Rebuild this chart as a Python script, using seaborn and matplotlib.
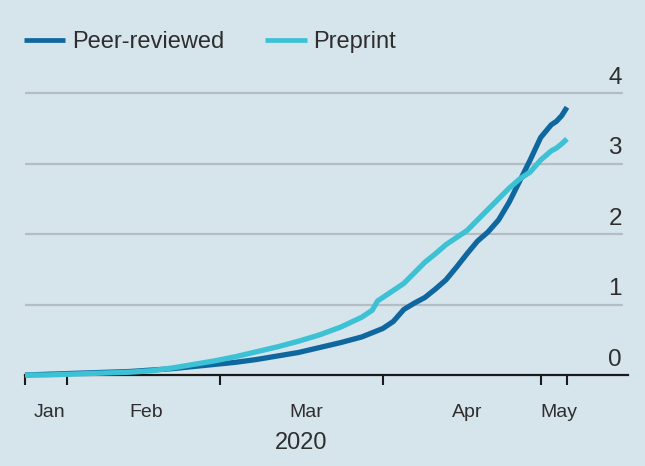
import matplotlib
matplotlib.use("Agg")
import matplotlib.pyplot as plt
import seaborn as sns
import pandas as pd

# ---- data (thousands of papers, cumulative) ----
days = [0, 4, 8, 12, 16, 20, 24, 28, 32, 36, 40, 44, 48, 52, 56, 60, 64, 66, 67,
        68, 70, 72, 74, 76, 78, 80, 82, 84, 86, 88, 90, 92, 94, 96, 98, 100, 101, 102, 103]
peer_reviewed = [0.0, 0.01, 0.02, 0.03, 0.04, 0.05, 0.07, 0.09, 0.12, 0.15, 0.18, 0.22, 0.27,
                 0.32, 0.39, 0.46, 0.54, 0.60, 0.63, 0.66, 0.76, 0.93, 1.02, 1.10, 1.22, 1.35,
                 1.53, 1.72, 1.90, 2.03, 2.20, 2.45, 2.75, 3.05, 3.37, 3.55, 3.60, 3.68, 3.80]
preprint = [0.0, 0.0, 0.01, 0.02, 0.03, 0.04, 0.06, 0.10, 0.15, 0.20, 0.26, 0.33, 0.40,
            0.48, 0.57, 0.68, 0.82, 0.92, 1.05, 1.10, 1.20, 1.30, 1.45, 1.60, 1.72, 1.85,
            1.95, 2.05, 2.20, 2.35, 2.50, 2.65, 2.78, 2.88, 3.05, 3.18, 3.22, 3.28, 3.35]
series_names = ["Peer-reviewed", "Preprint"]
month_labels = ["Jan", "Feb", "Mar", "Apr", "May"]
y_ticks = [0, 1, 2, 3, 4]

start = pd.Timestamp("2020-01-24")
dates = [start + pd.Timedelta(days=d) for d in days]
df = pd.DataFrame({
    "date": dates * 2,
    "value": peer_reviewed + preprint,
    "series": [series_names[0]] * len(dates) + [series_names[1]] * len(dates),
})

BG = "#d6e4ec"
DARK = "#0f67a0"
CYAN = "#3dc1d5"
TXT = "#2e2e2e"

sns.set_theme(style="white")
plt.rcParams["font.family"] = ["Liberation Sans", "DejaVu Sans"]

fig = plt.figure(figsize=(6.45, 4.66), dpi=100, facecolor=BG)
ax = fig.add_axes([25 / 645, 1 - 375 / 466, (628 - 25) / 645, (375 - 72) / 466])
ax.set_facecolor(BG)

sns.lineplot(data=df, x="date", y="value", hue="series", palette=[DARK, CYAN],
             linewidth=3.8, ax=ax, legend=True)
for ln in ax.get_lines():
    ln.set_clip_on(False)
    ln.set_solid_capstyle("butt")

ax.set_xlim(start, start + pd.Timedelta(days=114.6))
ax.set_ylim(0, 4.3)

# gridlines and right-hand labels
for v in y_ticks:
    if v > 0:
        ax.axhline(v, color="#b3bdc4", linewidth=1.6, zorder=0, xmax=(622 - 25) / (628 - 25))
    ax.text((622 - 25) / (628 - 25), v + 0.215, str(v), transform=ax.get_yaxis_transform(),
            ha="right", va="center", fontsize=17.5, color=TXT)

for s in ["top", "right", "left"]:
    ax.spines[s].set_visible(False)
ax.spines["bottom"].set_color("#1a1a1a")
ax.spines["bottom"].set_linewidth(1.6)
ax.spines["bottom"].set_zorder(1)
ax.set_yticks([])

major = [pd.Timestamp(s) for s in ["2020-01-24", "2020-02-01", "2020-03-01",
                                   "2020-04-01", "2020-05-01", "2020-05-06"]]
ax.set_xticks(major)
ax.set_xticklabels([""] * len(major))
ax.tick_params(axis="x", which="major", bottom=True, length=7, width=1.5,
               color="#1a1a1a", direction="out")
label_pos = [pd.Timestamp("2020-01-28 18:00"), pd.Timestamp("2020-02-16"),
             pd.Timestamp("2020-03-17 12:00"), pd.Timestamp("2020-04-17"),
             pd.Timestamp("2020-05-04 10:00")]
ax.set_xticks(label_pos, minor=True)
ax.set_xticklabels(month_labels, minor=True)
ax.tick_params(axis="x", which="minor", bottom=True, length=0, pad=21, labelsize=14,
               labelcolor=TXT)
ax.set_xlabel("")
ax.set_ylabel("")
fig.text(301 / 645, 1 - 443 / 466, "2020", ha="center", va="center", fontsize=17, color=TXT)

handles, labels = ax.get_legend_handles_labels()
ax.get_legend().remove()
for h in handles:
    h.set_linewidth(3.4)
    h.set_solid_capstyle("butt")
fig.legend(handles, labels, loc="center left", bbox_to_anchor=(24 / 645, 1 - 42 / 466),
           ncol=2, frameon=False, fontsize=17, handlelength=1.75, handletextpad=0.27,
           columnspacing=1.75, borderpad=0, borderaxespad=0, labelcolor=TXT)

fig.savefig("out.png", dpi=100, facecolor=BG)
